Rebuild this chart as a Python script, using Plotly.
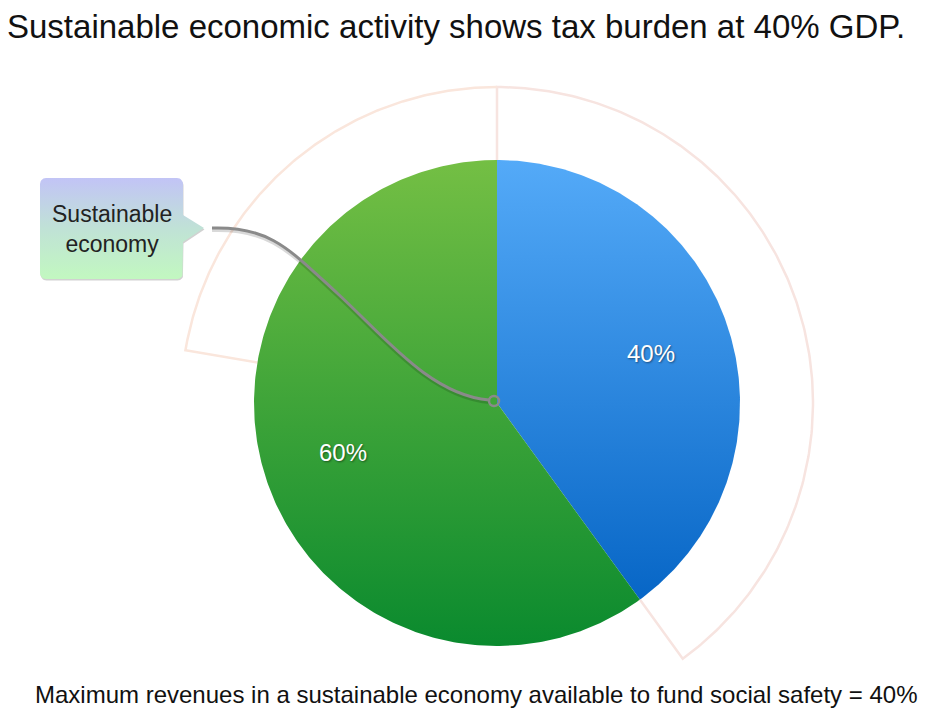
import numpy as np
import plotly.graph_objects as go

# ---- data ----
categories = ["Tax revenue (social safety)", "Sustainable economy"]
values = [40, 60]
slice_labels = ["40%", "60%"]
title_text = "Sustainable economic activity shows tax burden at 40% GDP."
footer_text = "Maximum revenues in a sustainable economy available to fund social safety = 40%"
callout_text = "Sustainable<br>economy"

# ---- layout constants (pixel space) ----
W, H = 935, 712
OFF = 8  # page body margin
CX, CY, R = 497, 403, 243
R_OUT = 316
GREEN_BRACKET_SPAN = 80.4  # degrees counter-clockwise from top
FONT = "Helvetica Neue, Liberation Sans, Arial"

grad = [
    [[0, "#54aaf8"], [1, "#0766c6"]],
    [[0, "#74bf44"], [1, "#0a8a2e"]],
]


def pt(theta_deg, r):
    t = np.radians(theta_deg)
    return CX + r * np.sin(t), CY - r * np.cos(t)


fig = go.Figure()

# outer brackets
fr = np.array(values, dtype=float) / sum(values)
ang = np.concatenate([[0], np.cumsum(fr) * 360])
a1 = ang[1]
th = np.linspace(0, a1, 200)
bx = [pt(0, R)[0]] + [pt(t, R_OUT)[0] for t in th] + [pt(a1, R)[0]]
by = [pt(0, R)[1]] + [pt(t, R_OUT)[1] for t in th] + [pt(a1, R)[1]]
fig.add_trace(go.Scatter(x=bx, y=by, mode="lines",
                         line=dict(color="#f7e4e0", width=2.5), hoverinfo="skip"))
th = np.linspace(0, -GREEN_BRACKET_SPAN, 200)
gx = [pt(t, R_OUT)[0] for t in th] + [pt(-GREEN_BRACKET_SPAN, R)[0]]
gy = [pt(t, R_OUT)[1] for t in th] + [pt(-GREEN_BRACKET_SPAN, R)[1]]
fig.add_trace(go.Scatter(x=gx, y=gy, mode="lines",
                         line=dict(color="#fae6dc", width=2.5), hoverinfo="skip"))

# pie wedges
for i, v in enumerate(values):
    th = np.linspace(ang[i], ang[i + 1], 300)
    xs = [CX] + [pt(t, R)[0] for t in th] + [CX]
    ys = [CY] + [pt(t, R)[1] for t in th] + [CY]
    fig.add_trace(go.Scatter(
        x=xs, y=ys, mode="lines", fill="toself",
        line=dict(width=0, color="rgba(0,0,0,0)"),
        fillgradient=dict(type="vertical", start=min(ys), stop=max(ys),
                          colorscale=grad[i]),
        name=categories[i], hoverinfo="skip"))
    mid = (ang[i] + ang[i + 1]) / 2
    lx, ly = pt(mid, 0.665 * R)
    fig.add_annotation(x=lx, y=ly, text=slice_labels[i], showarrow=False,
                       font=dict(size=24, color="white", family=FONT,
                                 shadow="1px 1px 2px rgba(0,0,0,0.45)"))

# callout box with pointer
bx0, bx1, by0, by1, rr = 40, 183, 178, 279, 6
pts = []
def arc(cx, cy, a0, a1_):
    for t in np.linspace(a0, a1_, 8):
        pts.append((cx + rr * np.cos(np.radians(t)), cy + rr * np.sin(np.radians(t))))
arc(bx0 + rr, by0 + rr, 180, 270)
arc(bx1 - rr, by0 + rr, 270, 360)
pts += [(bx1, 215), (204, 228), (bx1, 242)]
arc(bx1 - rr, by1 - rr, 0, 90)
arc(bx0 + rr, by1 - rr, 90, 180)
pts.append(pts[0])
px = [p[0] for p in pts]
py = [p[1] for p in pts]
fig.add_trace(go.Scatter(x=[p + 0.5 for p in px], y=[p + 1.5 for p in py], mode="lines",
                         fill="toself", fillcolor="rgba(0,0,0,0.18)",
                         line=dict(width=0), hoverinfo="skip"))
fig.add_trace(go.Scatter(x=px, y=py, mode="lines", fill="toself",
                         line=dict(width=0, color="rgba(0,0,0,0)"),
                         fillgradient=dict(type="vertical", start=by0, stop=by1,
                                           colorscale=[[0, "#c2c4f6"], [0.5, "#c0e2d6"], [1, "#c2f8c0"]]),
                         hoverinfo="skip"))
fig.add_annotation(x=(bx0 + bx1) / 2, y=229, text=callout_text, showarrow=False,
                   font=dict(size=23, color="#222", family=FONT))

# connector curve
path = "M 212 228 C 270 226, 290 250, 337 293 S 430 395, 489 400"
fig.add_shape(type="path", path="M 212 230 C 270 228, 290 252, 337 295 S 430 397, 489 402",
              line=dict(color="rgba(0,0,0,0.15)", width=4), xref="x", yref="y")
fig.add_shape(type="path", path=path, line=dict(color="#8a8a8a", width=3),
              xref="x", yref="y")
fig.add_shape(type="circle", x0=489, x1=499, y0=396, y1=406,
              line=dict(color="#8a8a8a", width=2.5), xref="x", yref="y")

# title and footer
fig.add_annotation(x=OFF, xshift=-3, y=26, text=title_text, showarrow=False, xanchor="left",
                   font=dict(size=33, color="#111", family=FONT))
fig.add_annotation(x=33, y=694, text=footer_text, showarrow=False, xanchor="left",
                   font=dict(size=24, color="#111", family=FONT))

fig.update_layout(
    width=W, height=H, margin=dict(l=0, r=0, t=0, b=0),
    paper_bgcolor="white", plot_bgcolor="white", showlegend=False,
    xaxis=dict(range=[OFF, W + OFF], visible=False, fixedrange=True),
    yaxis=dict(range=[H + OFF, OFF], visible=False, fixedrange=True),
)
fig.write_html("out.html")
